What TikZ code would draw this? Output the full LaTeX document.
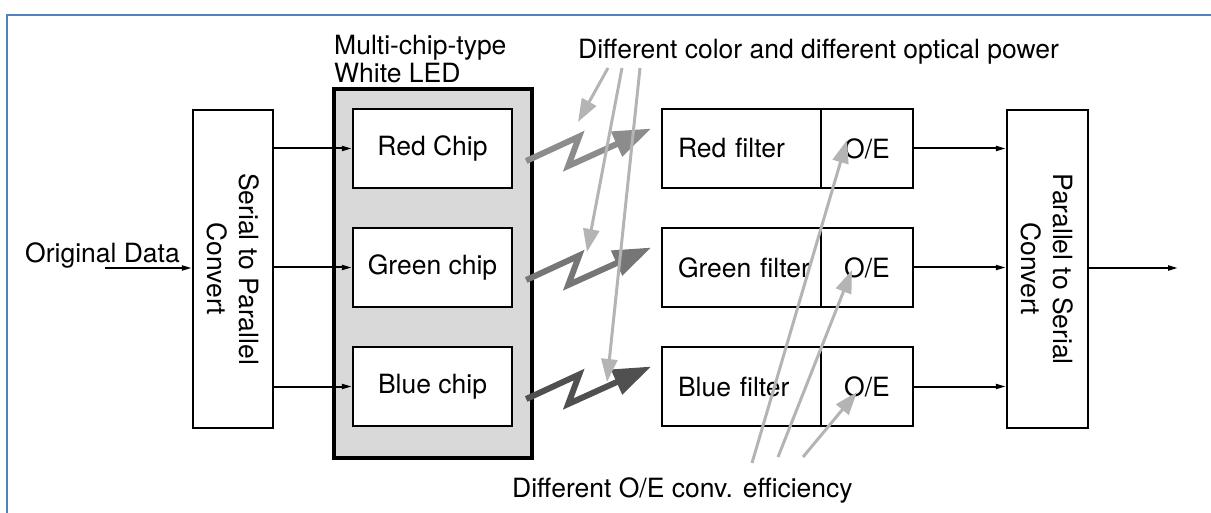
\documentclass[tikz,border=0pt]{standalone}
\usepackage{fontspec}
\setmainfont{TeX Gyre Heros}
\usetikzlibrary{arrows.meta,calc}

\definecolor{frameblue}{HTML}{4F81BD}
\definecolor{ledgray}{HTML}{D9D9D9}
\definecolor{boltR}{HTML}{8C8C8C}
\definecolor{boltG}{HTML}{767676}
\definecolor{boltB}{HTML}{505050}
\definecolor{notegray}{HTML}{B4B4B4}

\tikzset{
  txt/.style={font=\fontsize{26.5}{32}\selectfont},
  blk/.style={draw, line width=2.4pt, fill=white, inner sep=0pt, txt},
  rowbox/.style={blk, minimum height=79pt},
  conn/.style={line width=2pt, -{Triangle[length=10pt,width=5pt]}},
  bolt/.style={line width=6pt, line join=miter, -{Triangle[length=38pt,width=26pt]}},
  note/.style={line width=3pt, draw=notegray, -{Triangle[length=23pt,width=16pt]}, color=notegray},
  lbl/.style={inner sep=0pt, anchor=base west, txt},
}

\begin{document}
\begin{tikzpicture}[x=1pt,y=-1pt]
\useasboundingbox (0,0) rectangle (1211,513);

% frame
\draw[frameblue, line width=2.5pt] (7,513) -- (7,15) -- (1211,15);

% serial/parallel converters
\node[blk, minimum width=80pt, minimum height=318pt] (sp) at (233,269) {};
\node[txt, rotate=-90, align=center] (sptext) at (sp) {Serial to Parallel\\Convert};
\node[blk, minimum width=81pt, minimum height=318pt] (ps) at (1047.5,269) {};
\node[txt, rotate=-90, align=center] (pstext) at (ps) {Parallel to Serial\\Convert};

% white LED housing and chips
\node[draw, line width=4.5pt, fill=ledgray, minimum width=198pt, minimum height=369pt] (led) at (433,273.5) {};
\node[lbl] (ledtitleA) at (334,55) {Multi-chip-type};
\node[lbl] (ledtitleB) at (334,83) {White LED};

\node[rowbox, minimum width=159pt] (red)   at (432.5,148.5) {Red Chip};
\node[rowbox, minimum width=159pt] (green) at (432.5,267.5) {Green chip};
\node[rowbox, minimum width=159pt] (blue)  at (432.5,386.5) {Blue chip};

% receivers: filter + O/E
\foreach \n/\lab/\y in {r/Red/148.5, g/Green/267.5, b/Blue/386.5}{
  \node[rowbox, minimum width=159pt, text width=127pt, inner xsep=16pt, align=left] (\n f) at (741.5,\y) {\mbox{\lab{} filter}};
  \node[rowbox, minimum width=92pt] (\n oe) at (867,\y) {O/E};
}

% input and output
\node[lbl] (origlabel) at (25,263) {Original Data};
\coordinate (din) at (105,268);
\draw[conn] (din) -- (din -| sp.west);
\coordinate (dout) at (1178,268);
\draw[conn] (dout -| ps.east) -- (dout);

% parallel lines
\foreach \c in {red,green,blue}{
  \draw[conn] (sp.east |- \c) -- (\c.west);
}
\foreach \n in {r,g,b}{
  \draw[conn] (\n oe.east) -- (\n oe.east -| ps.west);
}

% optical links
\foreach \c/\col in {red/boltR, green/boltG, blue/boltB}{
  \draw[bolt, draw=\col, color=\col]
    ($(\c.east)+(13,12.5)$) -- ($(\c.east)+(66,-12)$) --
    ($(\c.east)+(55,17.5)$) -- ($(\c.east)+(138,-20)$);
}

% annotations
\node[lbl] (powerlabel) at (578,59) {Different color and different optical power};
\coordinate (pa) at (608,68);
\coordinate (pb) at (622,68);
\coordinate (pc) at (640,68);
\coordinate (pa2) at (578,122);
\coordinate (pb2) at (587,252);
\coordinate (pc2) at (607,382);
\draw[note] (pa) -- (pa2);
\draw[note] (pb) -- (pb2);
\draw[note] (pc) -- (pc2);

\node[lbl] (efflabel) at (512,497) {Different O/E conv. efficiency};
\coordinate (ea) at (752,463);
\coordinate (eb) at (778,457);
\coordinate (ec) at (803,457);
\coordinate (ea2) at (847,140);
\coordinate (eb2) at (852,270);
\coordinate (ec2) at (857,392);
\draw[note] (ea) -- (ea2);
\draw[note] (eb) -- (eb2);
\draw[note] (ec) -- (ec2);
\end{tikzpicture}
\end{document}
